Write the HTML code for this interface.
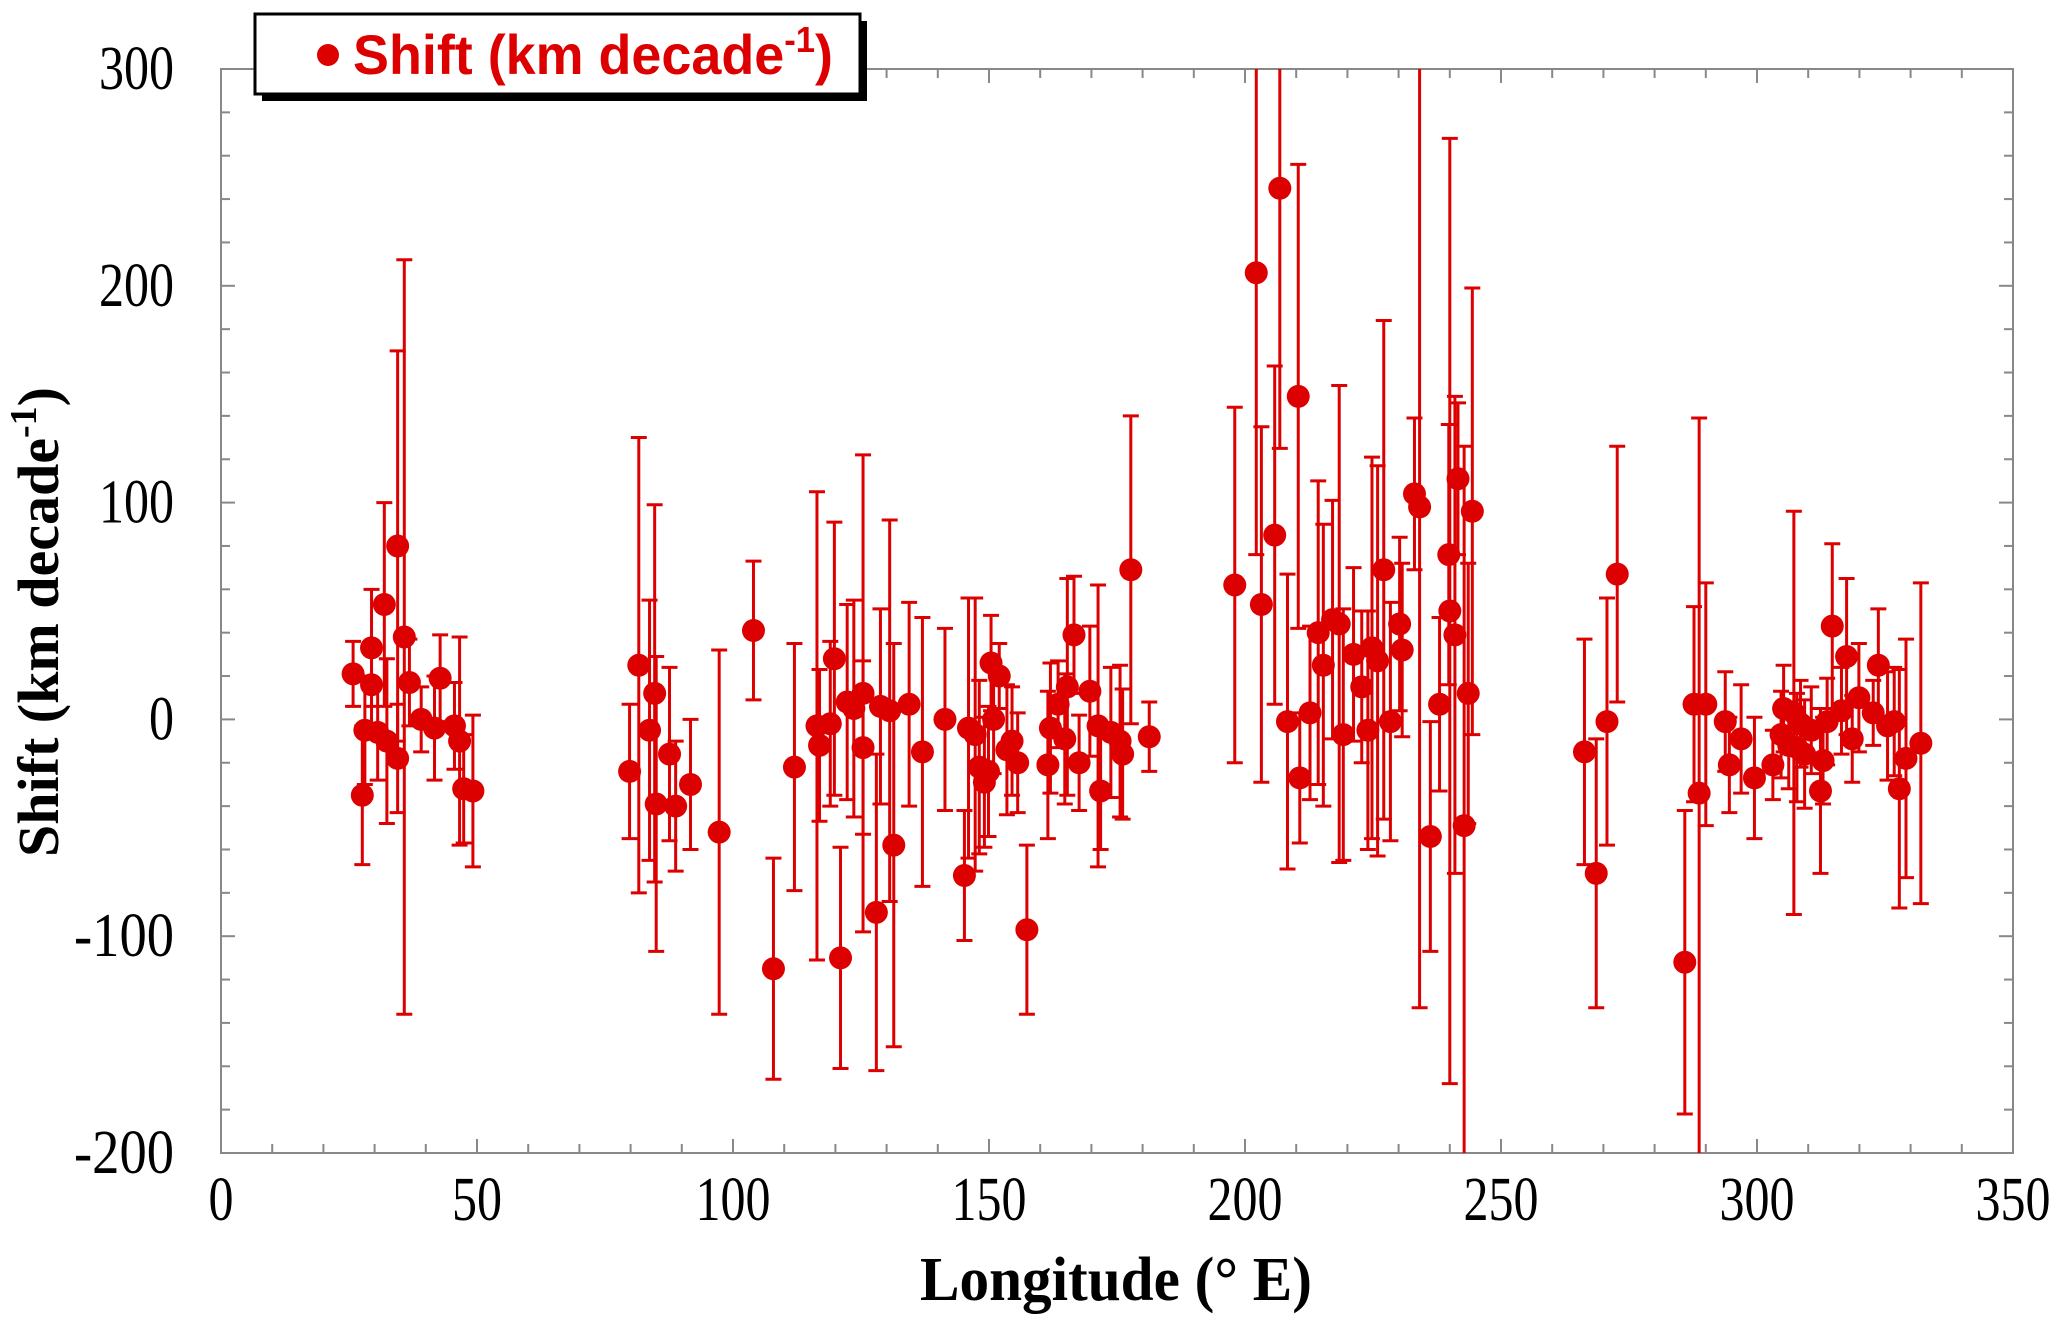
<!DOCTYPE html>
<html><head><meta charset="utf-8"><style>
html,body{margin:0;padding:0;background:#fff;}
svg{display:block;}
</style></head><body>
<svg id="chart" width="2067" height="1318" viewBox="0 0 2067 1318" xmlns="http://www.w3.org/2000/svg">
<defs><clipPath id="plotclip"><rect x="221" y="69" width="1792" height="1084"/></clipPath></defs>
<rect x="221" y="69" width="1792" height="1084" fill="#fff" stroke="#888" stroke-width="2"/>
<g id="ticks"></g>
<g id="labels" font-family="Liberation Serif, serif" font-size="62" fill="#000"></g>
<g id="marks" clip-path="url(#plotclip)"></g>
<text x="1116" y="1300" text-anchor="middle" font-family="Liberation Serif, serif" font-weight="bold" font-size="62" textLength="392" lengthAdjust="spacingAndGlyphs">Longitude (° E)</text>
<text transform="translate(58,622) rotate(-90)" text-anchor="middle" font-family="Liberation Serif, serif" font-weight="bold" font-size="58" textLength="470" lengthAdjust="spacingAndGlyphs">Shift (km decade<tspan dy="-22" font-size="38">-1</tspan><tspan dy="22">)</tspan></text>
<g>
<rect x="262" y="21" width="605" height="80" fill="#000"/>
<rect x="255" y="14" width="605" height="80" fill="#fff" stroke="#000" stroke-width="3"/>
<circle cx="328" cy="55" r="11" fill="#dd0000"/>
<text x="353" y="74" font-family="Liberation Sans, sans-serif" font-weight="bold" font-size="56" fill="#dd0000" textLength="480" lengthAdjust="spacingAndGlyphs">Shift (km decade<tspan dy="-22" font-size="36">-1</tspan><tspan dy="22">)</tspan></text>
</g>
</svg>
<script>
const xTicks = [0,50,100,150,200,250,300,350];
const yTicks = [-200,-100,0,100,200,300];
const lon = [25.8,27.6,28.1,29.4,29.4,30.6,31.9,32.4,34.5,35.8,34.5,36.8,39.1,41.7,42.8,45.6,46.6,47.4,49.2,
79.8,81.6,83.7,84.7,85.0,87.6,88.8,91.7,97.3,104,107.9,112,116.4,116.9,119,119.8,121,122.3,123.6,125.4,125.4,128,128.8,130.6,131.4,134.4,137,141.4,145.2,146,147.3,148.1,149.1,149.9,150.4,150.9,152,153.5,154.5,155.6,157.4,161.5,162,163.5,164.8,165.3,166.6,167.6,169.7,171.3,171.8,173.8,175.6,176.1,177.7,181.3,
198,202.2,203.2,205.8,206.8,208.3,210.4,210.7,212.7,214.3,215.3,217.1,218.4,219.2,221.2,222.8,224,224.8,225.9,227.1,228.4,230.2,230.7,233.1,234.1,236.2,238,239.8,240,241,241.6,242.8,243.6,244.4,
266.3,268.6,270.7,272.7,285.9,287.7,288.7,290,293.8,294.6,296.9,299.5,303.1,304.7,305.2,306.2,307.2,307.8,308.5,309.3,310.6,312.4,312.9,313.7,314.7,316.5,317.5,318.6,319.9,322.7,323.7,325.5,326.8,327.8,329.1,332];
const shift = [21,-35,-5,33,16,-6,53,-10,80,38,-18,17,0,-4,19,-3,-10,-32,-33,
-24,25,-5,12,-39,-16,-40,-30,-52,41,-115,-22,-3,-12,-2,28,-110,8,5,12,-13,-89,6,4,-58,7,-15,0,-72,-4,-7,-22,-29,-24,26,0,20,-14,-10,-20,-97,-21,-4,7,-9,15,39,-20,13,-3,-33,-6,-10,-16,69,-8,
62,206,53,85,245,-1,149,-27,3,40,25,46,44,-7,30,15,-5,33,27,69,-1,44,32,104,98,-54,7,76,50,39,111,-49,12,96,
-15,-71,-1,67,-112,7,-34,7,-1,-21,-9,-27,-21,-7,5,-12,3,-13,-2,-16,-5,-33,-19,-1,43,4,29,-9,10,3,25,-3,-1,-32,-18,-11];
const err = [15,32,25,27,20,22,47,38,90,174,25,20,15,24,20,20,48,25,35,
31,105,60,87,68,40,30,30,84,32,51,57,108,35,38,63,51,45,50,110,40,73,45,88,93,47,62,42,30,60,63,40,30,30,22,25,15,30,25,23,39,34,30,20,30,50,27,22,30,65,27,30,35,30,71,16,
82,130,82,78,120,68,107,30,40,70,65,55,110,58,40,35,55,88,90,115,55,40,40,35,231,53,40,60,218,110,35,175,60,103,
52,62,57,59,70,45,173,56,23,22,25,28,16,20,20,20,93,25,20,25,20,38,20,20,38,20,36,20,25,15,26,25,25,55,55,74];

const NS='http://www.w3.org/2000/svg';
const X0=221,X1=2013,Y0=69,Y1=1153;
const xs=v=>X0+(v-0)/350*(X1-X0);
const ys=v=>Y1-(v+200)/500*(Y1-Y0);
function mk(tag,attrs,parent){const e=document.createElementNS(NS,tag);for(const k in attrs)e.setAttribute(k,attrs[k]);parent.appendChild(e);return e;}
const tg=document.getElementById('ticks'), lg=document.getElementById('labels'), mg=document.getElementById('marks');
for(let v=0;v<=350;v+=10){
  const major=v%50===0, L=major?14:9, x=xs(v);
  const t1=mk('line',{x1:x,y1:Y1,x2:x,y2:Y1-L,stroke:'#888','stroke-width':2},tg);
  
  
  const t2=mk('line',{x1:x,y1:Y0,x2:x,y2:Y0+L,stroke:'#888','stroke-width':2},tg);
  
  
}
for(let v=-200;v<=300;v+=20){
  const major=v%100===0, L=major?14:9, y=ys(v);
  const t1=mk('line',{x1:X0,y1:y,x2:X0+L,y2:y,stroke:'#888','stroke-width':2},tg);
  
  
  const t2=mk('line',{x1:X1,y1:y,x2:X1-L,y2:y,stroke:'#888','stroke-width':2},tg);
  
  
}
xTicks.forEach(v=>{
  const s=String(v);
  const t=mk('text',{x:xs(v),y:1220,'text-anchor':'middle',textLength:s.length*25,lengthAdjust:'spacingAndGlyphs'},lg); t.textContent=s;
  
  
});
yTicks.forEach(v=>{
  const s=String(v);
  const t=mk('text',{x:174,y:ys(v)+20,'text-anchor':'end',textLength:s.length*25,lengthAdjust:'spacingAndGlyphs'},lg); t.textContent=s;
  
  
});
const RED='#dd0000';
lon.forEach((L,i)=>{
  const x=xs(L), yt=ys(shift[i]+err[i]), yb=ys(shift[i]-err[i]);
  const g=mk('g',{},mg);
  
  
  mk('line',{x1:x,y1:yt,x2:x,y2:yb,stroke:RED,'stroke-width':3},g);
  mk('line',{x1:x-8,y1:yt,x2:x+8,y2:yt,stroke:RED,'stroke-width':3},g);
  mk('line',{x1:x-8,y1:yb,x2:x+8,y2:yb,stroke:RED,'stroke-width':3},g);
});
lon.forEach((L,i)=>{
  const c=mk('circle',{cx:xs(L),cy:ys(shift[i]),r:11.5,fill:RED},mg);
  
  
});
</script>
</body></html>
